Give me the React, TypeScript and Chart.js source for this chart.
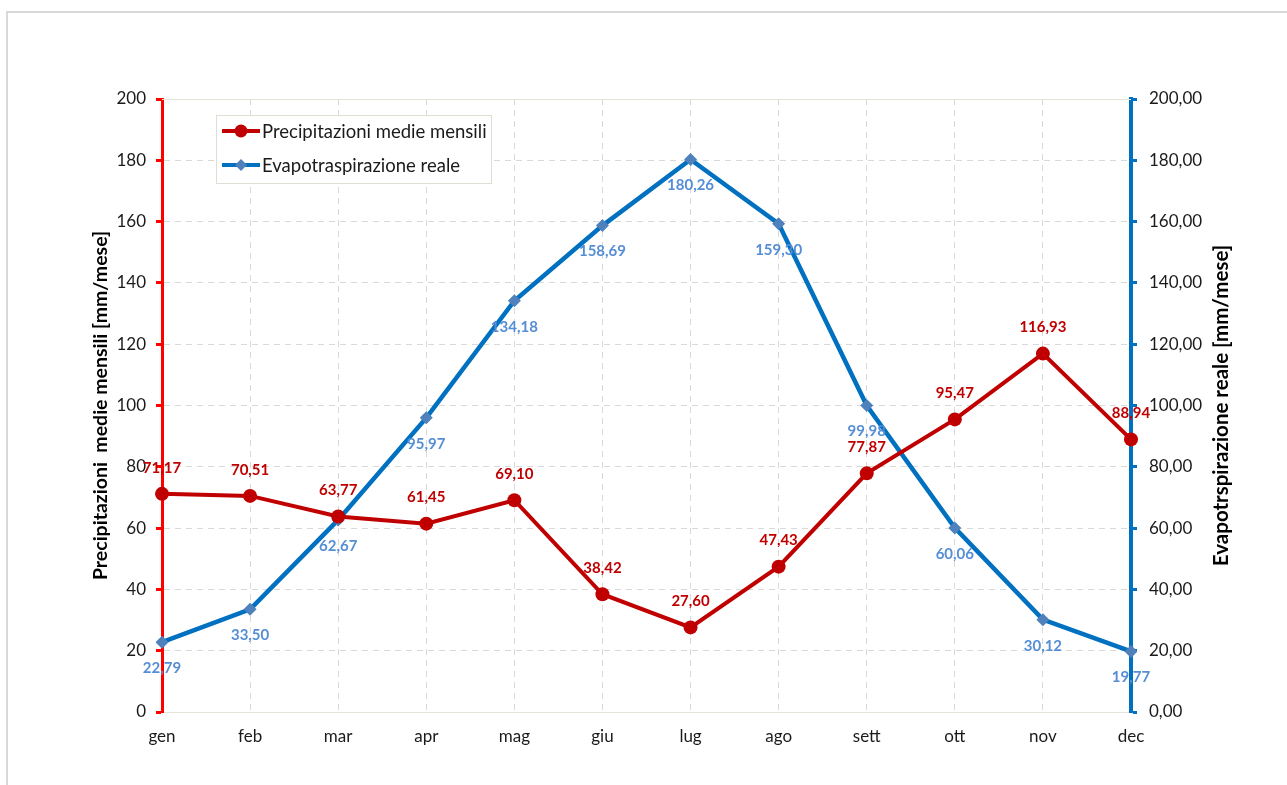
import React, { useEffect, useRef } from "react";
import { Chart, registerables } from "chart.js";

Chart.register(...registerables);

const months = ["gen", "feb", "mar", "apr", "mag", "giu", "lug", "ago", "sett", "ott", "nov", "dec"];
const precipitazioni = [71.17, 70.51, 63.77, 61.45, 69.1, 38.42, 27.6, 47.43, 77.87, 95.47, 116.93, 88.94];
const evapotraspirazione = [22.79, 33.5, 62.67, 95.97, 134.18, 158.69, 180.26, 159.3, 99.98, 60.06, 30.12, 19.77];
const seriesNames = ["Precipitazioni medie mensili", "Evapotraspirazione reale"];
const leftTitle = "Precipitazioni  medie mensili [mm/mese]";
const rightTitle = "Evapotrspirazione reale [mm/mese]";
const axisMin = 0;
const axisMax = 200;
const axisStep = 20;

const RED_LINE = "#C00000";
const RED_AXIS = "#FF0000";
const BLUE_LINE = "#0070C0";
const BLUE_MARK = "#4F81BD";
const BLUE_LABEL = "#558ED5";
const GRID = "#d9d9d9";
const FONT = "Lato, 'Open Sans', sans-serif";

const fmt = (v: number) => v.toFixed(2).replace(".", ",");

const decorPlugin = {
  id: "decor",
  beforeDraw(chart: any) {
    const { ctx } = chart;
    ctx.save();
    ctx.fillStyle = "#ffffff";
    ctx.fillRect(0, 0, chart.width, chart.height);
    ctx.fillStyle = GRID;
    ctx.fillRect(6, 11, 2, chart.height);
    ctx.fillRect(6, 11, chart.width, 2);
    ctx.restore();
  },
  beforeDatasetsDraw(chart: any) {
    const { ctx, chartArea } = chart;
    ctx.save();
    ctx.strokeStyle = "#e6e3d8";
    ctx.lineWidth = 1;
    ctx.beginPath();
    ctx.moveTo(chartArea.left, chartArea.top + 0.5);
    ctx.lineTo(chartArea.right, chartArea.top + 0.5);
    ctx.stroke();
    ctx.restore();
  },
  afterDatasetsDraw(chart: any) {
    const { ctx, chartArea } = chart;
    ctx.save();
    ctx.font = `bold 15px ${FONT}`;
    ctx.textAlign = "center";
    ctx.textBaseline = "middle";
    const m0 = chart.getDatasetMeta(0);
    m0.data.forEach((pt: any, i: number) => {
      ctx.fillStyle = RED_LINE;
      ctx.fillText(fmt(precipitazioni[i]), pt.x, pt.y - 26);
    });
    const m1 = chart.getDatasetMeta(1);
    m1.data.forEach((pt: any, i: number) => {
      ctx.fillStyle = BLUE_LABEL;
      ctx.fillText(fmt(evapotraspirazione[i]), pt.x, pt.y + 26);
    });

    // axis titles
    ctx.fillStyle = "#000000";
    const midY = (chartArea.top + chartArea.bottom) / 2;
    ctx.font = `bold 19.5px ${FONT}`;
    ctx.save();
    ctx.translate(101, midY);
    ctx.rotate(-Math.PI / 2);
    ctx.fillText(leftTitle, 0, 0);
    ctx.restore();
    ctx.font = `bold 20.5px ${FONT}`;
    ctx.save();
    ctx.translate(1221, midY);
    ctx.rotate(-Math.PI / 2);
    ctx.fillText(rightTitle, 0, 0);
    ctx.restore();

    // legend
    const lx = 216.5, ly = 115.5, lw = 275, lh = 68;
    ctx.fillStyle = "#ffffff";
    ctx.fillRect(lx, ly, lw, lh);
    ctx.strokeStyle = "#e0ddd2";
    ctx.lineWidth = 1;
    ctx.strokeRect(lx, ly, lw, lh);
    const rows = [
      { y: 131, color: RED_LINE, mark: RED_LINE, shape: "circle", text: seriesNames[0] },
      { y: 165, color: BLUE_LINE, mark: BLUE_MARK, shape: "diamond", text: seriesNames[1] },
    ];
    rows.forEach((r) => {
      ctx.strokeStyle = r.color;
      ctx.lineWidth = 4;
      ctx.beginPath();
      ctx.moveTo(222, r.y);
      ctx.lineTo(260, r.y);
      ctx.stroke();
      ctx.fillStyle = r.mark;
      ctx.beginPath();
      if (r.shape === "circle") {
        ctx.arc(241, r.y, 6.5, 0, Math.PI * 2);
      } else {
        ctx.moveTo(241, r.y - 6);
        ctx.lineTo(247, r.y);
        ctx.lineTo(241, r.y + 6);
        ctx.lineTo(235, r.y);
        ctx.closePath();
      }
      ctx.fill();
      ctx.fillStyle = "#1a1a1a";
      ctx.font = `18.5px ${FONT}`;
      ctx.textAlign = "left";
      ctx.fillText(r.text, 262, r.y + 1);
    });
    ctx.restore();
  },
};

export default function App() {
  const canvasRef = useRef<HTMLCanvasElement | null>(null);

  useEffect(() => {
    if (!canvasRef.current) return;
    Chart.defaults.font.family = FONT;
    const chart = new Chart(canvasRef.current, {
      type: "line",
      data: {
        labels: months,
        datasets: [
          {
            label: seriesNames[0],
            data: precipitazioni,
            yAxisID: "y",
            borderColor: RED_LINE,
            backgroundColor: RED_LINE,
            borderWidth: 4,
            pointStyle: "circle",
            pointRadius: 7,
            pointBackgroundColor: RED_LINE,
            pointBorderColor: RED_LINE,
            pointBorderWidth: 0,
            tension: 0,
          },
          {
            label: seriesNames[1],
            data: evapotraspirazione,
            yAxisID: "y1",
            borderColor: BLUE_LINE,
            backgroundColor: BLUE_MARK,
            borderWidth: 4.5,
            pointStyle: "rectRot",
            pointRadius: 6.5,
            pointBackgroundColor: BLUE_MARK,
            pointBorderColor: BLUE_MARK,
            pointBorderWidth: 0,
            tension: 0,
          },
        ],
      },
      options: {
        responsive: false,
        animation: false,
        devicePixelRatio: 1,
        layout: { padding: { top: 99, left: 0, right: 0, bottom: 0 } },
        plugins: {
          legend: { display: false },
          tooltip: { enabled: false },
        },
        scales: {
          x: {
            type: "category",
            offset: false,
            grid: {
              display: true,
              color: GRID,
              drawTicks: false,
              lineWidth: 1,
            },
            border: { display: true, color: "#e6e3d8", width: 1, dash: [6, 5] },
            ticks: {
              color: "#1a1a1a",
              font: { size: 17, family: FONT },
              padding: 14,
              autoSkip: false,
              maxRotation: 0,
            },
            afterFit: (scale: any) => {
              scale.height = 73;
            },
          },
          y: {
            position: "left",
            min: axisMin,
            max: axisMax,
            grid: {
              color: (c: any) =>
                c.tick && (c.tick.value === axisMin || c.tick.value === axisMax) ? "rgba(0,0,0,0)" : GRID,
              lineWidth: 1,
              tickColor: RED_AXIS,
              tickWidth: 3,
              tickLength: 6,
              tickBorderDash: [],
            },
            border: { display: true, color: RED_AXIS, width: 3, dash: [6, 5] },
            ticks: {
              stepSize: axisStep,
              color: "#1a1a1a",
              font: { size: 17, family: FONT },
              padding: 10,
              callback: (v: any) => String(v),
            },
            afterFit: (scale: any) => {
              scale.width = 162;
            },
          },
          y1: {
            position: "right",
            min: axisMin,
            max: axisMax,
            grid: {
              drawOnChartArea: false,
              tickColor: BLUE_LINE,
              tickWidth: 3,
              tickLength: 6,
            },
            border: { display: true, color: BLUE_LINE, width: 4 },
            ticks: {
              stepSize: axisStep,
              color: "#1a1a1a",
              font: { size: 17, family: FONT },
              padding: 12,
              callback: (v: any) => fmt(Number(v)),
            },
            afterFit: (scale: any) => {
              scale.width = 156;
            },
          },
        },
      },
      plugins: [decorPlugin],
    } as any);
    return () => chart.destroy();
  }, []);

  return (
    <div style={{ position: "fixed", left: 0, top: 0, width: 1287, height: 785, background: "#fff" }}>
      <canvas ref={canvasRef} width={1287} height={785} style={{ width: 1287, height: 785, display: "block" }} />
    </div>
  );
}
